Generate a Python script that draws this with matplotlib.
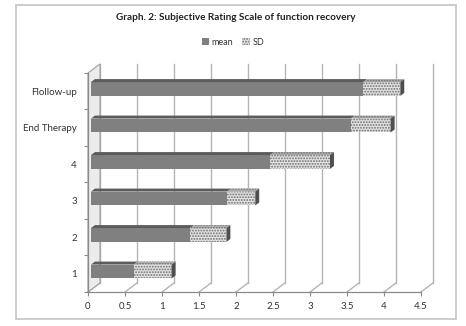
import matplotlib.pyplot as plt
from matplotlib.patches import Polygon, Patch, Rectangle

# data
categories = ["1", "2", "3", "4", "End Therapy", "Flollow-up"]
mean_vals = [0.58, 1.34, 1.84, 2.42, 3.51, 3.68]
sd_vals = [0.51, 0.49, 0.38, 0.81, 0.54, 0.50]
x_ticks = [0, 0.5, 1, 1.5, 2, 2.5, 3, 3.5, 4, 4.5]
x_tick_labels = ["0", "0.5", "1", "1.5", "2", "2.5", "3", "3.5", "4", "4.5"]

plt.rcParams["font.family"] = ["Lato", "DejaVu Sans"]
plt.rcParams["hatch.linewidth"] = 0.9

DX, DY = 0.162, 0.247   # depth of the fake 3-D box, data units
F0, F1 = 0.25, 0.58     # front / back depth fraction of the bars
BAR_H = 0.38
GRID = "#b5b5b5"
AXC = "#8a8a8a"
MEAN_C, MEAN_TOP = "#808080", "#5c5c5c"
SD_C, SD_TOP, END_C = "#e2e2e2", "#b0b0b0", "#4f4f4f"
SD_HATCH = "#6f6f6f"

fig = plt.figure(figsize=(4.66, 3.26), dpi=100)
fig.patches.append(Rectangle((0.034, 0.021), 0.944, 0.963, transform=fig.transFigure,
                             fill=False, edgecolor="#c4c4c4", linewidth=1.2))

ax = fig.add_axes([0.1888, 0.1043, 0.7146, 0.6718])
ax.set_xlim(0, 4.5)
ax.set_ylim(-0.5, 5.5)

# back wall gridlines + floor diagonals
for x in x_ticks:
    ax.plot([x + DX, x + DX], [-0.5 + DY, 5.5 + DY], color=GRID, lw=1.0,
            clip_on=False, zorder=1)
    ax.plot([x, x + DX], [-0.5, -0.5 + DY], color=GRID, lw=1.0,
            clip_on=False, zorder=1)

# left wall
ax.add_patch(Polygon([(0, -0.5), (DX, -0.5 + DY), (DX, 5.5 + DY), (0, 5.5)],
                     closed=True, facecolor="#ececec", edgecolor="#a0a0a0",
                     linewidth=0.8, clip_on=False, zorder=2))

# bars: front face via barh, top/end faces as polygons
x0 = F0 * DX
ddx, ddy = (F1 - F0) * DX, (F1 - F0) * DY
for i, (m, s) in enumerate(zip(mean_vals, sd_vals)):
    yc = i + F0 * DY
    yb, yt = yc - BAR_H / 2, yc + BAR_H / 2
    ax.barh(yc, m, left=x0, height=BAR_H, color=MEAN_C, linewidth=0, zorder=3)
    ax.barh(yc, s, left=x0 + m, height=BAR_H, color=SD_C, edgecolor=SD_HATCH,
            hatch="......", linewidth=0, zorder=3)
    ax.add_patch(Polygon([(x0, yt), (x0 + m, yt), (x0 + m + ddx, yt + ddy),
                          (x0 + ddx, yt + ddy)], closed=True,
                         facecolor=MEAN_TOP, linewidth=0, zorder=3))
    ax.add_patch(Polygon([(x0 + m, yt), (x0 + m + s, yt),
                          (x0 + m + s + ddx, yt + ddy), (x0 + m + ddx, yt + ddy)],
                         closed=True, facecolor=SD_TOP, edgecolor=SD_HATCH,
                         hatch="......", linewidth=0, zorder=3))
    x1 = x0 + m + s
    ax.add_patch(Polygon([(x1, yb), (x1 + ddx, yb + ddy), (x1 + ddx, yt + ddy),
                          (x1, yt)], closed=True, facecolor=END_C,
                         linewidth=0, zorder=3))

for sp in ("top", "right"):
    ax.spines[sp].set_visible(False)
for sp in ("left", "bottom"):
    ax.spines[sp].set_color(AXC)
    ax.spines[sp].set_linewidth(0.9)

ax.set_xticks(x_ticks)
ax.set_xticklabels(x_tick_labels)
ax.set_yticks([k - 0.5 for k in range(len(categories) + 1)])
ax.set_yticklabels([])
ax.set_yticks(range(len(categories)), minor=True)
ax.set_yticklabels(categories, minor=True)
ax.tick_params(axis="x", length=3, color=AXC, labelsize=7, labelcolor="#333333", pad=4)
ax.tick_params(axis="y", which="major", length=3, color=AXC)
ax.tick_params(axis="y", which="minor", length=0, labelsize=7,
               labelcolor="#333333", pad=8)
ax.set_facecolor("none")

fig.text(0.506, 0.945, "Graph. 2: Subjective Rating Scale of function recovery",
         ha="center", va="center", fontsize=7.2, fontweight="bold", color="#222222")
handles = [Patch(facecolor=MEAN_C, label="mean"),
           Patch(facecolor=SD_C, edgecolor=SD_HATCH, hatch="......",
                 linewidth=0, label="SD")]
fig.legend(handles=handles, loc="center", bbox_to_anchor=(0.5, 0.871), ncol=2,
           frameon=False, fontsize=6.5, handlelength=0.8, handleheight=0.8,
           handletextpad=0.3, columnspacing=1.0, labelcolor="#333333")

fig.savefig("out.png", dpi=100)
